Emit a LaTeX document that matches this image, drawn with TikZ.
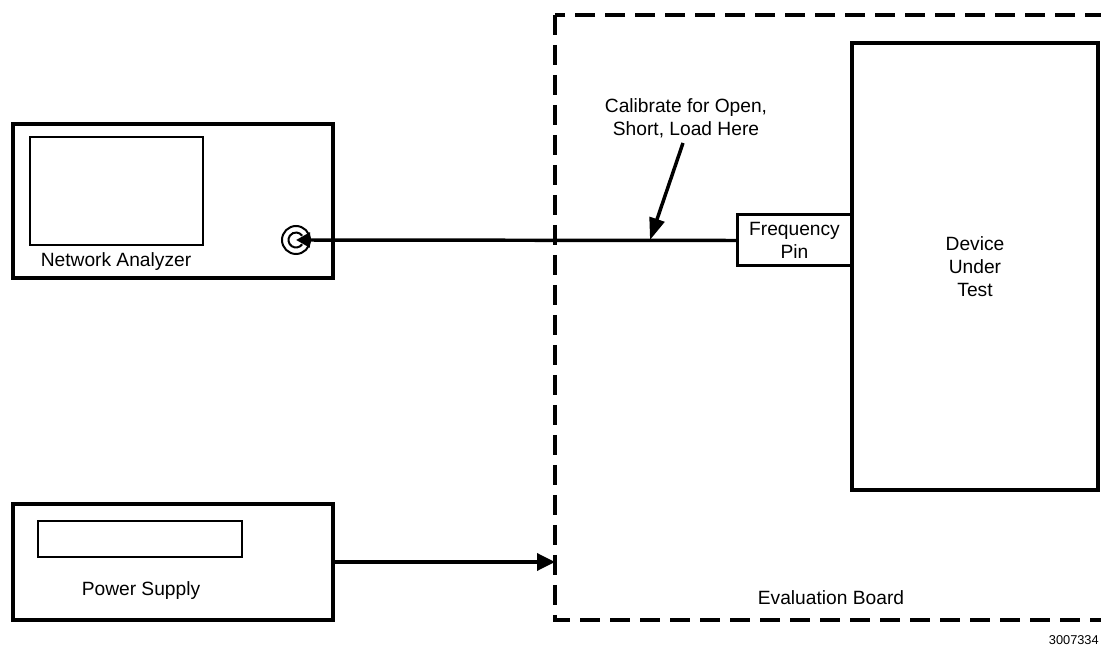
\documentclass[tikz,border=0pt]{standalone}
\usepackage{fontspec}
\setmainfont{Liberation Sans}
\usepackage{tikz}
\usetikzlibrary{arrows.meta, positioning}
\tikzset{
  instr/.style={
    rectangle, draw, line width=3pt, inner sep=0pt, outer sep=0pt
  },
  panel/.style={instr, line width=1.5pt},
  pinbox/.style={instr, line width=2.25pt, align=center, font=\lbl},
  board/.style={line width=3pt, dash pattern=on 15pt off 7.5pt},
  arr/.style={-{Triangle[length=13.5pt, width=12.75pt]}, line width=2.6pt},
  sarr/.style={-{Triangle[length=10.5pt, width=11pt]}, line width=2.6pt},
  txt/.style={font=\lbl, align=center, inner sep=0pt}
}
\newcommand{\lbl}{\fontsize{14.4}{17.5}\selectfont}

\begin{document}
\begin{tikzpicture}[x=0.75pt, y=-0.75pt]
  \useasboundingbox (0,0) rectangle (1101,648);

  %% ── evaluation board ─────────────────────────────────
  \draw[board] (555,15) rectangle (1125,620);
  \node[txt] (evb) at (831,598) {Evaluation Board};

  %% ── device under test + pin ──────────────────────────
  \node[instr, minimum width=184.5pt, minimum height=335.25pt,
        txt] (dut) at (975,266.5) {Device\\Under\\Test};
  \coordinate (piny) at (0,240.5);
  \node[pinbox, minimum width=86.25pt, minimum height=38.25pt,
        anchor=east] (pin) at (dut.west |- piny) {Frequency\\Pin};

  %% ── network analyzer ─────────────────────────────────
  \node[instr, minimum width=240pt, minimum height=115.5pt] (na) at (173,201) {};
  \node[panel, minimum width=129.75pt, minimum height=81pt] (scr) at (116.5,191) {};
  \node[txt] (nalbl) at (116,262) {Network Analyzer};
  \node[circle, draw, line width=1.5pt, minimum size=21pt,
        inner sep=0pt] (conn) at (296,240) {};
  \draw[line width=1.5pt] (conn.center) ++(35:7.5) arc (35:325:7.5);

  \draw[sarr] (pin.west) -- (conn.center);

  %% ── calibration note ─────────────────────────────────
  \node[txt] (cal) at (686,118) {Calibrate for Open,\\Short, Load Here};
  \coordinate (calpt) at (650,240);
  \draw[arr, -{Triangle[length=16.5pt, width=11.5pt]}] (683,143) -- (calpt);

  %% ── power supply ─────────────────────────────────────
  \node[instr, minimum width=240pt, minimum height=87pt] (ps) at (173,562) {};
  \node[panel, minimum width=153pt, minimum height=27pt] (disp) at (140,539) {};
  \node[txt] (pslbl) at (141,591) {Power Supply};
  \coordinate (bin) at (555,562);
  \draw[arr] (ps.east) -- (bin);

  \node[font=\fontsize{9.6}{11}\selectfont, anchor=east, inner sep=0pt]
        (fig) at (1099,640) {3007334};
\end{tikzpicture}
\end{document}
